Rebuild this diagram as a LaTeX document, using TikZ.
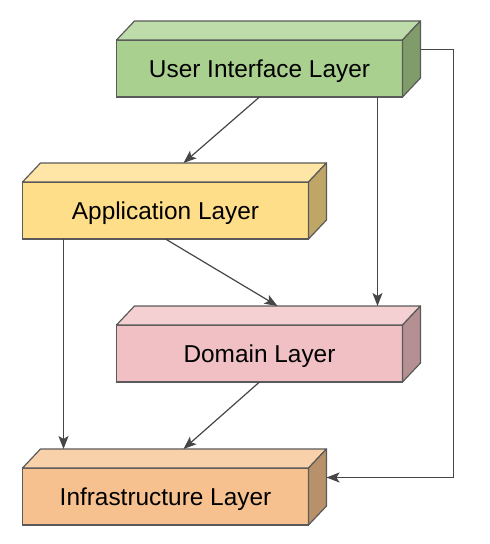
\documentclass[tikz,border=0pt]{standalone}
\usepackage{fontspec}
\setmainfont{Liberation Sans}
\usetikzlibrary{arrows.meta, positioning, calc}
\definecolor{uigreen}{RGB}{169,208,142}
\definecolor{appyellow}{RGB}{255,222,138}
\definecolor{dompink}{RGB}{240,192,196}
\definecolor{infraorange}{RGB}{246,193,143}
\definecolor{edgegray}{RGB}{90,90,90}
\definecolor{linegray}{RGB}{70,70,70}

\begin{document}
\begin{tikzpicture}[
    layer/.style={rectangle, draw=edgegray, line width=0.6pt, fill=#1, minimum width=143pt, minimum height=28.5pt, inner sep=0pt, outer sep=0pt, text height=8.7pt, text depth=0pt, align=center, font=\fontsize{12.2}{14}\selectfont},
    layer/.default=white,
    arrow/.style={-{Stealth[length=6.5pt, width=5pt, inset=1.5pt]}, line width=0.6pt, draw=linegray}
]
\useasboundingbox (0,0) rectangle (245pt,-272pt);

% Layers (front faces)
\node[layer=uigreen] (ui) at (129.75pt,-34.25pt) {User Interface Layer};
\node[layer=appyellow, below=42.5pt of ui, xshift=-47pt] (app) {Application Layer};
\node[layer=dompink, below=43pt of app, xshift=47pt] (dom) {Domain Layer};
\node[layer=infraorange, below=43pt of dom, xshift=-47pt] (infra) {Infrastructure Layer};

% Top and side faces, plus back edge points
\foreach \n/\c in {ui/uigreen, app/appyellow, dom/dompink, infra/infraorange} {
    \filldraw[fill=\c!75!white, draw=edgegray, line width=0.6pt, line join=round]
        (\n.north west) -- ++(9pt,9.5pt) -- ([shift={(9pt,9.5pt)}]\n.north east) -- (\n.north east) -- cycle;
    \filldraw[fill=\c!75!black, draw=edgegray, line width=0.6pt, line join=round]
        (\n.north east) -- ++(9pt,9.5pt) -- ([shift={(9pt,9.5pt)}]\n.south east) -- (\n.south east) -- cycle;
    \coordinate (\n-top) at ([shift={(9pt,9.5pt)}]\n.north);
    \coordinate (\n-side) at ([shift={(9pt,9.5pt)}]\n.east);
}

% Arrows
\draw[arrow] (ui.south) -- (app-top);
\draw[arrow] (app.south) -- (dom-top);
\draw[arrow] (dom.south) -- (infra-top);
\draw[arrow] ([xshift=-12.5pt]ui.south east) -- ([xshift=-12.5pt]ui.south east |- dom-top);
\draw[arrow] ([xshift=20.5pt]app.south west) -- ([xshift=20.5pt]app.south west |- infra-top);
\draw[arrow] (ui-side) -- ++(16.5pt,0) |- (infra-side);

\end{tikzpicture}
\end{document}
